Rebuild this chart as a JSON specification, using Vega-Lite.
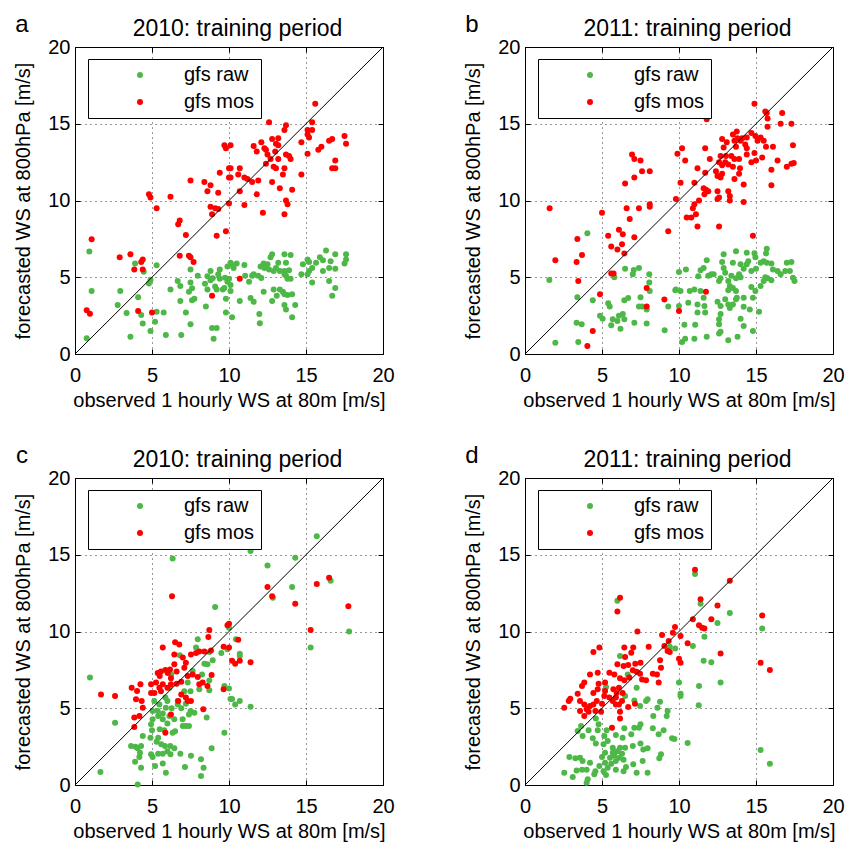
{
"$schema": "https://vega.github.io/schema/vega-lite/v6.json",
"padding": {"left": 13, "top": 12, "right": 0, "bottom": 0},
"columns": 2,
"spacing": {"row": 124, "column": 142},
"bounds": "flush",
"resolve": {"scale": {"color": "independent"}, "legend": {"color": "independent"}},
"config": {
  "font": "Liberation Sans",
  "view": {"stroke": "black", "strokeWidth": 1},
  "axis": {"domain": false, "tickColor": "black", "tickSize": -5, "labelFontSize": 20, "labelColor": "black", "titleFontSize": 20, "titleColor": "black", "titleFontWeight": "normal", "gridColor": "black", "gridDash": [1, 4], "gridOpacity": 0.8, "gridWidth": 1, "labelFlush": false},
  "legend": {"orient": "none", "legendX": 13, "legendY": 12, "title": null, "fillColor": "white", "strokeColor": "black", "padding": 6, "labelFontSize": 20, "labelColor": "black", "symbolType": "circle", "symbolSize": 36, "symbolOffset": 36, "labelOffset": 34, "rowPadding": 7, "symbolStrokeWidth": 0}
},
"datasets": {
"a": [
{"s":"gfs raw","x":0.93,"y":6.67},{"s":"gfs raw","x":1.08,"y":4.1},{"s":"gfs raw","x":0.76,"y":1.02},{"s":"gfs raw","x":2.94,"y":4.1},{"s":"gfs raw","x":2.77,"y":3.2},{"s":"gfs raw","x":3.35,"y":2.67},{"s":"gfs raw","x":3.6,"y":1.13},{"s":"gfs raw","x":3.9,"y":5.9},{"s":"gfs raw","x":4.46,"y":5.36},{"s":"gfs raw","x":4.1,"y":3.7},{"s":"gfs raw","x":4.3,"y":2.54},{"s":"gfs raw","x":4.4,"y":1.98},{"s":"gfs raw","x":4.9,"y":1.5},{"s":"gfs raw","x":4.9,"y":4.84},{"s":"gfs raw","x":4.8,"y":4.6},{"s":"gfs raw","x":5.3,"y":5.78},{"s":"gfs raw","x":5.3,"y":2.76},{"s":"gfs raw","x":5.2,"y":2.1},{"s":"gfs raw","x":5.9,"y":1.24},{"s":"gfs raw","x":5.76,"y":2.7},{"s":"gfs raw","x":6.2,"y":4.2},{"s":"gfs raw","x":6.67,"y":4.75},{"s":"gfs raw","x":6.84,"y":4.43},{"s":"gfs raw","x":6.84,"y":3.45},{"s":"gfs raw","x":6.9,"y":1.24},{"s":"gfs raw","x":7.2,"y":2.7},{"s":"gfs raw","x":7.5,"y":5.5},{"s":"gfs raw","x":7.5,"y":4.65},{"s":"gfs raw","x":7.4,"y":4.06},{"s":"gfs raw","x":7.6,"y":4.28},{"s":"gfs raw","x":7.6,"y":3.5},{"s":"gfs raw","x":7.75,"y":3.6},{"s":"gfs raw","x":7.5,"y":1.93},{"s":"gfs raw","x":7.97,"y":5.1},{"s":"gfs raw","x":8.44,"y":4.58},{"s":"gfs raw","x":8.6,"y":4.2},{"s":"gfs raw","x":8.5,"y":3.1},{"s":"gfs raw","x":8.6,"y":5.06},{"s":"gfs raw","x":8.8,"y":5.4},{"s":"gfs raw","x":8.8,"y":4.8},{"s":"gfs raw","x":8.94,"y":4.93},{"s":"gfs raw","x":9.4,"y":5.5},{"s":"gfs raw","x":9.3,"y":5.2},{"s":"gfs raw","x":9.1,"y":4.4},{"s":"gfs raw","x":9.2,"y":4.2},{"s":"gfs raw","x":9.6,"y":4.2},{"s":"gfs raw","x":9.74,"y":4.97},{"s":"gfs raw","x":8.9,"y":1.7},{"s":"gfs raw","x":9.2,"y":1.7},{"s":"gfs raw","x":9.0,"y":1.0},{"s":"gfs raw","x":9.4,"y":4.9},
{"s":"gfs raw","x":16.3,"y":6.75},{"s":"gfs raw","x":16.9,"y":6.5},{"s":"gfs raw","x":17.6,"y":6.5},{"s":"gfs raw","x":17.6,"y":6.15},{"s":"gfs raw","x":17.5,"y":5.9},{"s":"gfs raw","x":15.9,"y":6.3},{"s":"gfs raw","x":16.1,"y":6.1},{"s":"gfs raw","x":16.6,"y":6.05},{"s":"gfs raw","x":16.5,"y":5.6},{"s":"gfs raw","x":16.9,"y":5.55},{"s":"gfs raw","x":16.1,"y":5.4},{"s":"gfs raw","x":15.65,"y":5.95},{"s":"gfs raw","x":15.4,"y":5.6},{"s":"gfs raw","x":15.2,"y":5.4},{"s":"gfs raw","x":15.1,"y":5.2},{"s":"gfs raw","x":14.7,"y":5.2},{"s":"gfs raw","x":14.8,"y":5.85},{"s":"gfs raw","x":15.1,"y":6.15},{"s":"gfs raw","x":15.2,"y":6.0},{"s":"gfs raw","x":15.4,"y":4.65},{"s":"gfs raw","x":16.5,"y":4.75},{"s":"gfs raw","x":16.9,"y":4.3},{"s":"gfs raw","x":16.7,"y":3.8},{"s":"gfs raw","x":12.8,"y":6.5},{"s":"gfs raw","x":13.6,"y":6.5},{"s":"gfs raw","x":14.0,"y":6.45},{"s":"gfs raw","x":12.7,"y":6.3},{"s":"gfs raw","x":13.2,"y":5.95},{"s":"gfs raw","x":13.7,"y":5.95},{"s":"gfs raw","x":12.5,"y":5.85},{"s":"gfs raw","x":12.25,"y":5.9},{"s":"gfs raw","x":12.05,"y":5.7},{"s":"gfs raw","x":12.3,"y":5.6},{"s":"gfs raw","x":12.6,"y":5.5},{"s":"gfs raw","x":12.9,"y":5.4},{"s":"gfs raw","x":13.05,"y":5.6},{"s":"gfs raw","x":13.3,"y":5.4},{"s":"gfs raw","x":13.6,"y":5.4},{"s":"gfs raw","x":13.9,"y":5.45},{"s":"gfs raw","x":13.7,"y":5.1},{"s":"gfs raw","x":14.0,"y":4.9},{"s":"gfs raw","x":13.8,"y":4.9},{"s":"gfs raw","x":13.6,"y":5.2},{"s":"gfs raw","x":11.0,"y":5.8},{"s":"gfs raw","x":10.5,"y":5.9},{"s":"gfs raw","x":10.2,"y":5.8},{"s":"gfs raw","x":10.3,"y":5.6},{"s":"gfs raw","x":10.1,"y":5.95},{"s":"gfs raw","x":9.9,"y":5.7},{"s":"gfs raw","x":11.6,"y":5.2},{"s":"gfs raw","x":11.5,"y":5.1},{"s":"gfs raw","x":11.9,"y":5.1},{"s":"gfs raw","x":12.1,"y":4.95},{"s":"gfs raw","x":11.05,"y":5.1},{"s":"gfs raw","x":10.0,"y":4.9},{"s":"gfs raw","x":11.3,"y":4.7},{"s":"gfs raw","x":10.1,"y":4.5},{"s":"gfs raw","x":9.9,"y":4.7},{"s":"gfs raw","x":9.7,"y":4.3},{"s":"gfs raw","x":10.1,"y":4.1},{"s":"gfs raw","x":9.8,"y":3.6},{"s":"gfs raw","x":10.7,"y":3.45},{"s":"gfs raw","x":11.4,"y":3.65},{"s":"gfs raw","x":11.6,"y":3.4},{"s":"gfs raw","x":12.25,"y":4.05},{"s":"gfs raw","x":12.9,"y":4.2},{"s":"gfs raw","x":13.3,"y":4.2},{"s":"gfs raw","x":13.5,"y":4.05},{"s":"gfs raw","x":13.1,"y":3.8},{"s":"gfs raw","x":13.6,"y":3.9},{"s":"gfs raw","x":13.8,"y":3.85},{"s":"gfs raw","x":14.1,"y":3.9},{"s":"gfs raw","x":12.8,"y":3.45},{"s":"gfs raw","x":13.6,"y":3.2},{"s":"gfs raw","x":13.7,"y":2.9},{"s":"gfs raw","x":14.3,"y":3.2},{"s":"gfs raw","x":14.1,"y":2.4},{"s":"gfs raw","x":9.8,"y":2.7},{"s":"gfs raw","x":10.2,"y":2.4},{"s":"gfs raw","x":11.97,"y":2.6},{"s":"gfs raw","x":12.0,"y":2.0},
{"s":"gfs mos","x":9.7,"y":13.6},{"s":"gfs mos","x":9.8,"y":13.4},{"s":"gfs mos","x":10.0,"y":12.1},{"s":"gfs mos","x":9.4,"y":11.8},{"s":"gfs mos","x":10.0,"y":11.5},{"s":"gfs mos","x":7.5,"y":11.3},{"s":"gfs mos","x":8.4,"y":11.2},{"s":"gfs mos","x":8.8,"y":11.0},{"s":"gfs mos","x":8.6,"y":10.6},{"s":"gfs mos","x":9.3,"y":10.5},{"s":"gfs mos","x":4.8,"y":10.4},{"s":"gfs mos","x":4.9,"y":10.2},{"s":"gfs mos","x":6.2,"y":10.25},{"s":"gfs mos","x":5.3,"y":9.5},{"s":"gfs mos","x":8.8,"y":9.6},{"s":"gfs mos","x":9.1,"y":9.5},{"s":"gfs mos","x":9.3,"y":9.45},{"s":"gfs mos","x":10.0,"y":9.8},{"s":"gfs mos","x":8.9,"y":9.1},{"s":"gfs mos","x":6.8,"y":8.7},{"s":"gfs mos","x":6.7,"y":8.45},{"s":"gfs mos","x":7.2,"y":7.75},{"s":"gfs mos","x":9.2,"y":7.7},{"s":"gfs mos","x":9.8,"y":8.0},{"s":"gfs mos","x":1.08,"y":7.47},{"s":"gfs mos","x":3.6,"y":6.5},{"s":"gfs mos","x":2.9,"y":6.3},{"s":"gfs mos","x":4.4,"y":6.15},{"s":"gfs mos","x":4.3,"y":6.0},{"s":"gfs mos","x":3.85,"y":5.5},{"s":"gfs mos","x":4.4,"y":5.5},{"s":"gfs mos","x":6.8,"y":6.4},{"s":"gfs mos","x":7.4,"y":6.4},{"s":"gfs mos","x":7.5,"y":6.3},{"s":"gfs mos","x":7.7,"y":6.0},{"s":"gfs mos","x":8.9,"y":3.8},{"s":"gfs mos","x":0.76,"y":2.85},{"s":"gfs mos","x":0.97,"y":2.63},{"s":"gfs mos","x":4.1,"y":2.8},{"s":"gfs mos","x":5.0,"y":2.7},
{"s":"gfs mos","x":15.6,"y":16.3},{"s":"gfs mos","x":12.6,"y":15.1},{"s":"gfs mos","x":13.7,"y":14.9},{"s":"gfs mos","x":13.6,"y":14.6},{"s":"gfs mos","x":15.4,"y":15.1},{"s":"gfs mos","x":15.1,"y":14.6},{"s":"gfs mos","x":15.4,"y":14.6},{"s":"gfs mos","x":15.1,"y":14.3},{"s":"gfs mos","x":15.2,"y":14.1},{"s":"gfs mos","x":14.7,"y":13.8},{"s":"gfs mos","x":12.8,"y":14.0},{"s":"gfs mos","x":13.2,"y":14.05},{"s":"gfs mos","x":13.05,"y":13.7},{"s":"gfs mos","x":12.1,"y":13.8},{"s":"gfs mos","x":11.6,"y":13.55},{"s":"gfs mos","x":12.3,"y":13.4},{"s":"gfs mos","x":12.4,"y":13.3},{"s":"gfs mos","x":11.8,"y":13.2},{"s":"gfs mos","x":13.0,"y":13.2},{"s":"gfs mos","x":13.2,"y":13.6},{"s":"gfs mos","x":10.1,"y":13.6},{"s":"gfs mos","x":16.7,"y":14.0},{"s":"gfs mos","x":16.5,"y":13.9},{"s":"gfs mos","x":17.5,"y":14.2},{"s":"gfs mos","x":17.6,"y":13.7},{"s":"gfs mos","x":16.0,"y":13.5},{"s":"gfs mos","x":15.8,"y":13.3},{"s":"gfs mos","x":15.1,"y":13.05},{"s":"gfs mos","x":13.7,"y":13.0},{"s":"gfs mos","x":13.9,"y":12.9},{"s":"gfs mos","x":14.0,"y":12.7},{"s":"gfs mos","x":12.5,"y":13.0},{"s":"gfs mos","x":12.7,"y":12.7},{"s":"gfs mos","x":13.2,"y":12.7},{"s":"gfs mos","x":12.4,"y":12.4},{"s":"gfs mos","x":12.9,"y":12.2},{"s":"gfs mos","x":13.05,"y":12.1},{"s":"gfs mos","x":13.6,"y":12.1},{"s":"gfs mos","x":13.5,"y":11.7},{"s":"gfs mos","x":16.9,"y":12.6},{"s":"gfs mos","x":16.7,"y":12.1},{"s":"gfs mos","x":16.9,"y":12.1},{"s":"gfs mos","x":14.7,"y":11.7},{"s":"gfs mos","x":10.1,"y":12.1},{"s":"gfs mos","x":10.7,"y":12.1},{"s":"gfs mos","x":10.1,"y":11.5},{"s":"gfs mos","x":10.6,"y":11.7},{"s":"gfs mos","x":11.0,"y":11.5},{"s":"gfs mos","x":11.2,"y":11.4},{"s":"gfs mos","x":11.5,"y":11.2},{"s":"gfs mos","x":11.9,"y":11.3},{"s":"gfs mos","x":12.8,"y":11.2},{"s":"gfs mos","x":13.3,"y":10.8},{"s":"gfs mos","x":14.1,"y":10.7},{"s":"gfs mos","x":10.7,"y":10.6},{"s":"gfs mos","x":11.8,"y":10.4},{"s":"gfs mos","x":11.0,"y":9.7},{"s":"gfs mos","x":13.7,"y":10.0},{"s":"gfs mos","x":13.8,"y":9.75},{"s":"gfs mos","x":13.6,"y":9.1},{"s":"gfs mos","x":12.2,"y":9.2},{"s":"gfs mos","x":10.7,"y":4.9}
],
"b": [
{"s":"gfs raw","x":4.05,"y":7.86},{"s":"gfs raw","x":1.58,"y":4.82},{"s":"gfs raw","x":3.4,"y":3.7},{"s":"gfs raw","x":4.4,"y":3.5},{"s":"gfs raw","x":6.5,"y":5.56},{"s":"gfs raw","x":7.06,"y":5.47},{"s":"gfs raw","x":7.4,"y":5.6},{"s":"gfs raw","x":7.0,"y":5.2},{"s":"gfs raw","x":5.8,"y":5.0},{"s":"gfs raw","x":8.07,"y":5.2},{"s":"gfs raw","x":8.07,"y":4.65},{"s":"gfs raw","x":8.1,"y":4.1},{"s":"gfs raw","x":9.76,"y":4.15},{"s":"gfs raw","x":5.4,"y":3.3},{"s":"gfs raw","x":5.5,"y":3.1},{"s":"gfs raw","x":6.45,"y":3.5},{"s":"gfs raw","x":6.7,"y":3.65},{"s":"gfs raw","x":7.5,"y":3.7},{"s":"gfs raw","x":7.4,"y":3.1},{"s":"gfs raw","x":7.6,"y":3.1},{"s":"gfs raw","x":7.9,"y":2.9},{"s":"gfs raw","x":9.3,"y":3.1},{"s":"gfs raw","x":4.87,"y":2.5},{"s":"gfs raw","x":5.04,"y":2.3},{"s":"gfs raw","x":5.7,"y":2.26},{"s":"gfs raw","x":6.0,"y":2.15},{"s":"gfs raw","x":6.1,"y":2.5},{"s":"gfs raw","x":6.35,"y":2.6},{"s":"gfs raw","x":6.45,"y":2.26},{"s":"gfs raw","x":5.6,"y":1.87},{"s":"gfs raw","x":6.2,"y":1.65},{"s":"gfs raw","x":3.35,"y":2.04},{"s":"gfs raw","x":3.68,"y":1.93},{"s":"gfs raw","x":7.1,"y":2.04},{"s":"gfs raw","x":7.9,"y":1.98},{"s":"gfs raw","x":9.07,"y":1.54},{"s":"gfs raw","x":1.97,"y":0.74},{"s":"gfs raw","x":3.46,"y":0.78},
{"s":"gfs raw","x":15.7,"y":6.86},{"s":"gfs raw","x":13.7,"y":6.7},{"s":"gfs raw","x":14.4,"y":6.6},{"s":"gfs raw","x":14.9,"y":6.56},{"s":"gfs raw","x":12.9,"y":6.5},{"s":"gfs raw","x":15.65,"y":6.55},{"s":"gfs raw","x":14.96,"y":6.3},{"s":"gfs raw","x":15.3,"y":5.95},{"s":"gfs raw","x":15.5,"y":6.05},{"s":"gfs raw","x":15.7,"y":5.95},{"s":"gfs raw","x":16.0,"y":5.9},{"s":"gfs raw","x":14.5,"y":6.05},{"s":"gfs raw","x":14.4,"y":5.85},{"s":"gfs raw","x":14.0,"y":5.85},{"s":"gfs raw","x":13.5,"y":5.95},{"s":"gfs raw","x":12.8,"y":6.0},{"s":"gfs raw","x":11.8,"y":6.1},{"s":"gfs raw","x":12.9,"y":5.6},{"s":"gfs raw","x":15.0,"y":5.55},{"s":"gfs raw","x":14.2,"y":5.55},{"s":"gfs raw","x":14.7,"y":5.4},{"s":"gfs raw","x":16.1,"y":5.5},{"s":"gfs raw","x":16.4,"y":5.4},{"s":"gfs raw","x":17.0,"y":5.95},{"s":"gfs raw","x":17.3,"y":6.0},{"s":"gfs raw","x":16.9,"y":5.4},{"s":"gfs raw","x":17.2,"y":5.4},{"s":"gfs raw","x":16.6,"y":5.2},{"s":"gfs raw","x":17.4,"y":4.97},{"s":"gfs raw","x":17.5,"y":4.75},{"s":"gfs raw","x":10.45,"y":5.5},{"s":"gfs raw","x":10.0,"y":5.35},{"s":"gfs raw","x":11.4,"y":5.45},{"s":"gfs raw","x":11.6,"y":5.6},{"s":"gfs raw","x":11.9,"y":5.1},{"s":"gfs raw","x":12.1,"y":5.2},{"s":"gfs raw","x":12.25,"y":5.2},{"s":"gfs raw","x":11.25,"y":5.06},{"s":"gfs raw","x":12.6,"y":4.76},{"s":"gfs raw","x":12.7,"y":4.93},{"s":"gfs raw","x":13.2,"y":4.76},{"s":"gfs raw","x":13.4,"y":5.1},{"s":"gfs raw","x":13.7,"y":4.93},{"s":"gfs raw","x":14.0,"y":5.0},{"s":"gfs raw","x":13.9,"y":5.2},{"s":"gfs raw","x":13.0,"y":5.3},{"s":"gfs raw","x":15.6,"y":5.0},{"s":"gfs raw","x":15.75,"y":4.93},{"s":"gfs raw","x":16.0,"y":4.8},{"s":"gfs raw","x":15.5,"y":4.76},{"s":"gfs raw","x":13.3,"y":4.43},{"s":"gfs raw","x":13.5,"y":4.3},{"s":"gfs raw","x":13.2,"y":4.15},{"s":"gfs raw","x":13.7,"y":4.1},{"s":"gfs raw","x":14.7,"y":4.36},{"s":"gfs raw","x":15.3,"y":4.43},{"s":"gfs raw","x":9.8,"y":4.2},{"s":"gfs raw","x":10.1,"y":4.1},{"s":"gfs raw","x":10.7,"y":4.1},{"s":"gfs raw","x":11.0,"y":4.2},{"s":"gfs raw","x":11.4,"y":4.1},{"s":"gfs raw","x":11.6,"y":3.67},{"s":"gfs raw","x":10.6,"y":3.34},{"s":"gfs raw","x":11.2,"y":3.23},{"s":"gfs raw","x":11.65,"y":3.13},{"s":"gfs raw","x":12.5,"y":3.4},{"s":"gfs raw","x":12.7,"y":3.13},{"s":"gfs raw","x":13.0,"y":3.56},{"s":"gfs raw","x":13.2,"y":3.23},{"s":"gfs raw","x":13.3,"y":3.0},{"s":"gfs raw","x":13.5,"y":3.23},{"s":"gfs raw","x":13.7,"y":3.56},{"s":"gfs raw","x":13.76,"y":3.67},{"s":"gfs raw","x":14.2,"y":3.67},{"s":"gfs raw","x":14.2,"y":3.08},{"s":"gfs raw","x":14.8,"y":3.67},{"s":"gfs raw","x":14.96,"y":4.1},{"s":"gfs raw","x":14.6,"y":2.9},{"s":"gfs raw","x":15.2,"y":2.75},{"s":"gfs raw","x":10.0,"y":3.13},{"s":"gfs raw","x":11.2,"y":2.7},{"s":"gfs raw","x":11.7,"y":2.7},{"s":"gfs raw","x":12.7,"y":2.6},{"s":"gfs raw","x":12.6,"y":2.26},{"s":"gfs raw","x":14.0,"y":2.3},{"s":"gfs raw","x":12.6,"y":1.93},{"s":"gfs raw","x":14.2,"y":1.82},{"s":"gfs raw","x":10.35,"y":1.9},{"s":"gfs raw","x":11.05,"y":1.9},{"s":"gfs raw","x":14.8,"y":1.5},{"s":"gfs raw","x":12.6,"y":1.33},{"s":"gfs raw","x":12.7,"y":1.45},{"s":"gfs raw","x":11.8,"y":1.13},{"s":"gfs raw","x":11.0,"y":1.0},{"s":"gfs raw","x":10.4,"y":1.0},{"s":"gfs raw","x":10.2,"y":0.78},{"s":"gfs raw","x":13.2,"y":0.9},{"s":"gfs raw","x":13.8,"y":1.13},
{"s":"gfs mos","x":6.95,"y":13.0},{"s":"gfs mos","x":7.1,"y":12.7},{"s":"gfs mos","x":7.5,"y":12.6},{"s":"gfs mos","x":7.6,"y":11.9},{"s":"gfs mos","x":8.1,"y":11.9},{"s":"gfs mos","x":7.1,"y":11.5},{"s":"gfs mos","x":6.5,"y":11.1},{"s":"gfs mos","x":1.6,"y":9.5},{"s":"gfs mos","x":5.0,"y":9.2},{"s":"gfs mos","x":6.6,"y":9.5},{"s":"gfs mos","x":7.4,"y":9.5},{"s":"gfs mos","x":8.1,"y":9.75},{"s":"gfs mos","x":8.1,"y":9.6},{"s":"gfs mos","x":6.8,"y":8.8},{"s":"gfs mos","x":9.8,"y":10.1},{"s":"gfs mos","x":6.1,"y":8.1},{"s":"gfs mos","x":6.35,"y":7.8},{"s":"gfs mos","x":5.4,"y":7.7},{"s":"gfs mos","x":7.1,"y":7.6},{"s":"gfs mos","x":3.4,"y":7.5},{"s":"gfs mos","x":9.3,"y":8.0},{"s":"gfs mos","x":6.3,"y":7.15},{"s":"gfs mos","x":5.6,"y":7.0},{"s":"gfs mos","x":6.0,"y":6.8},{"s":"gfs mos","x":6.45,"y":6.55},{"s":"gfs mos","x":3.7,"y":6.45},{"s":"gfs mos","x":1.97,"y":6.1},{"s":"gfs mos","x":3.35,"y":6.0},{"s":"gfs mos","x":5.6,"y":5.25},{"s":"gfs mos","x":5.75,"y":5.25},{"s":"gfs mos","x":3.46,"y":4.75},{"s":"gfs mos","x":4.87,"y":3.9},{"s":"gfs mos","x":7.9,"y":4.3},{"s":"gfs mos","x":7.9,"y":3.1},{"s":"gfs mos","x":9.05,"y":3.55},{"s":"gfs mos","x":4.4,"y":1.5},{"s":"gfs mos","x":4.05,"y":0.52},
{"s":"gfs mos","x":14.9,"y":16.3},{"s":"gfs mos","x":15.6,"y":15.8},{"s":"gfs mos","x":15.7,"y":15.7},{"s":"gfs mos","x":16.7,"y":15.7},{"s":"gfs mos","x":15.75,"y":15.35},{"s":"gfs mos","x":16.6,"y":15.0},{"s":"gfs mos","x":17.3,"y":15.0},{"s":"gfs mos","x":15.75,"y":14.8},{"s":"gfs mos","x":14.7,"y":14.4},{"s":"gfs mos","x":13.75,"y":14.5},{"s":"gfs mos","x":13.5,"y":14.3},{"s":"gfs mos","x":14.1,"y":14.05},{"s":"gfs mos","x":14.4,"y":14.1},{"s":"gfs mos","x":15.1,"y":13.9},{"s":"gfs mos","x":15.3,"y":14.1},{"s":"gfs mos","x":15.5,"y":13.9},{"s":"gfs mos","x":14.96,"y":14.2},{"s":"gfs mos","x":12.8,"y":14.0},{"s":"gfs mos","x":13.6,"y":13.9},{"s":"gfs mos","x":13.8,"y":14.05},{"s":"gfs mos","x":14.0,"y":13.9},{"s":"gfs mos","x":14.3,"y":13.65},{"s":"gfs mos","x":13.1,"y":13.8},{"s":"gfs mos","x":12.9,"y":13.45},{"s":"gfs mos","x":13.7,"y":13.5},{"s":"gfs mos","x":14.4,"y":13.4},{"s":"gfs mos","x":16.1,"y":13.5},{"s":"gfs mos","x":15.65,"y":13.5},{"s":"gfs mos","x":17.4,"y":13.6},{"s":"gfs mos","x":9.9,"y":13.05},{"s":"gfs mos","x":10.2,"y":13.4},{"s":"gfs mos","x":11.7,"y":13.4},{"s":"gfs mos","x":10.4,"y":12.6},{"s":"gfs mos","x":12.0,"y":12.7},{"s":"gfs mos","x":12.7,"y":12.9},{"s":"gfs mos","x":13.05,"y":12.9},{"s":"gfs mos","x":13.4,"y":12.9},{"s":"gfs mos","x":13.6,"y":12.7},{"s":"gfs mos","x":13.9,"y":12.7},{"s":"gfs mos","x":14.4,"y":13.0},{"s":"gfs mos","x":14.9,"y":13.1},{"s":"gfs mos","x":15.4,"y":12.8},{"s":"gfs mos","x":14.7,"y":12.5},{"s":"gfs mos","x":15.0,"y":12.6},{"s":"gfs mos","x":16.4,"y":12.6},{"s":"gfs mos","x":12.6,"y":12.5},{"s":"gfs mos","x":12.8,"y":12.3},{"s":"gfs mos","x":13.0,"y":12.5},{"s":"gfs mos","x":13.2,"y":12.35},{"s":"gfs mos","x":13.5,"y":12.2},{"s":"gfs mos","x":13.96,"y":12.1},{"s":"gfs mos","x":17.3,"y":12.4},{"s":"gfs mos","x":17.45,"y":12.45},{"s":"gfs mos","x":17.0,"y":12.2},{"s":"gfs mos","x":16.0,"y":12.0},{"s":"gfs mos","x":11.2,"y":12.1},{"s":"gfs mos","x":11.7,"y":11.8},{"s":"gfs mos","x":12.4,"y":11.9},{"s":"gfs mos","x":12.5,"y":11.6},{"s":"gfs mos","x":12.8,"y":11.75},{"s":"gfs mos","x":12.7,"y":11.5},{"s":"gfs mos","x":13.6,"y":11.4},{"s":"gfs mos","x":13.9,"y":11.75},{"s":"gfs mos","x":16.0,"y":11.0},{"s":"gfs mos","x":14.2,"y":11.05},{"s":"gfs mos","x":10.1,"y":11.15},{"s":"gfs mos","x":11.0,"y":11.15},{"s":"gfs mos","x":11.6,"y":10.8},{"s":"gfs mos","x":11.75,"y":10.7},{"s":"gfs mos","x":11.9,"y":10.6},{"s":"gfs mos","x":11.65,"y":10.4},{"s":"gfs mos","x":12.5,"y":10.6},{"s":"gfs mos","x":12.6,"y":10.2},{"s":"gfs mos","x":12.5,"y":10.1},{"s":"gfs mos","x":13.2,"y":10.6},{"s":"gfs mos","x":13.3,"y":10.3},{"s":"gfs mos","x":13.3,"y":10.0},{"s":"gfs mos","x":14.2,"y":9.9},{"s":"gfs mos","x":11.0,"y":9.75},{"s":"gfs mos","x":11.3,"y":10.0},{"s":"gfs mos","x":10.9,"y":9.5},{"s":"gfs mos","x":11.1,"y":9.1},{"s":"gfs mos","x":10.8,"y":8.9},{"s":"gfs mos","x":10.5,"y":8.9},{"s":"gfs mos","x":11.2,"y":8.3},{"s":"gfs mos","x":12.6,"y":8.3},{"s":"gfs mos","x":14.8,"y":7.7},{"s":"gfs mos","x":11.75,"y":4.05},{"s":"gfs mos","x":10.0,"y":2.8},{"s":"gfs mos","x":11.8,"y":15.3}
],
"c": [
{"s":"gfs raw","x":6.34,"y":14.75},{"s":"gfs raw","x":9.1,"y":11.6},{"s":"gfs raw","x":0.97,"y":7.0},{"s":"gfs raw","x":2.6,"y":4.06},{"s":"gfs raw","x":1.65,"y":0.85},{"s":"gfs raw","x":4.07,"y":0.04},{"s":"gfs raw","x":7.97,"y":9.5},{"s":"gfs raw","x":7.86,"y":8.95},{"s":"gfs raw","x":6.8,"y":8.45},{"s":"gfs raw","x":8.72,"y":8.66},{"s":"gfs raw","x":8.94,"y":8.12},{"s":"gfs raw","x":8.6,"y":7.86},{"s":"gfs raw","x":8.4,"y":7.9},{"s":"gfs raw","x":8.25,"y":7.2},{"s":"gfs raw","x":8.72,"y":6.8},{"s":"gfs raw","x":7.32,"y":6.67},{"s":"gfs raw","x":7.1,"y":6.1},{"s":"gfs raw","x":7.5,"y":6.1},{"s":"gfs raw","x":8.07,"y":6.23},{"s":"gfs raw","x":8.72,"y":6.17},{"s":"gfs raw","x":6.25,"y":7.2},{"s":"gfs raw","x":6.13,"y":6.34},{"s":"gfs raw","x":5.87,"y":5.7},{"s":"gfs raw","x":6.0,"y":5.47},{"s":"gfs raw","x":5.48,"y":5.25},{"s":"gfs raw","x":5.15,"y":5.47},{"s":"gfs raw","x":5.04,"y":4.82},{"s":"gfs raw","x":5.37,"y":4.82},{"s":"gfs raw","x":5.7,"y":4.65},{"s":"gfs raw","x":5.9,"y":5.04},{"s":"gfs raw","x":6.28,"y":5.0},{"s":"gfs raw","x":6.67,"y":5.25},{"s":"gfs raw","x":6.67,"y":5.47},{"s":"gfs raw","x":6.9,"y":5.0},{"s":"gfs raw","x":7.2,"y":5.3},{"s":"gfs raw","x":7.5,"y":4.82},{"s":"gfs raw","x":7.75,"y":4.7},{"s":"gfs raw","x":7.4,"y":4.6},{"s":"gfs raw","x":6.99,"y":4.28},{"s":"gfs raw","x":7.2,"y":3.84},{"s":"gfs raw","x":7.4,"y":3.84},{"s":"gfs raw","x":7.0,"y":3.84},{"s":"gfs raw","x":6.45,"y":4.28},{"s":"gfs raw","x":6.13,"y":4.5},{"s":"gfs raw","x":6.0,"y":4.0},{"s":"gfs raw","x":5.7,"y":4.28},{"s":"gfs raw","x":5.4,"y":4.5},{"s":"gfs raw","x":5.04,"y":4.28},{"s":"gfs raw","x":4.94,"y":3.95},{"s":"gfs raw","x":5.0,"y":3.56},{"s":"gfs raw","x":5.5,"y":3.63},{"s":"gfs raw","x":5.8,"y":3.56},{"s":"gfs raw","x":6.34,"y":3.4},{"s":"gfs raw","x":6.5,"y":3.5},{"s":"gfs raw","x":4.9,"y":3.08},{"s":"gfs raw","x":5.4,"y":3.08},{"s":"gfs raw","x":5.3,"y":2.82},{"s":"gfs raw","x":5.6,"y":2.65},{"s":"gfs raw","x":5.84,"y":2.54},{"s":"gfs raw","x":6.19,"y":2.54},{"s":"gfs raw","x":6.45,"y":2.4},{"s":"gfs raw","x":6.0,"y":2.2},{"s":"gfs raw","x":6.2,"y":2.0},{"s":"gfs raw","x":5.7,"y":2.04},{"s":"gfs raw","x":5.4,"y":2.04},{"s":"gfs raw","x":4.94,"y":2.0},{"s":"gfs raw","x":5.04,"y":1.82},{"s":"gfs raw","x":4.4,"y":3.2},{"s":"gfs raw","x":3.64,"y":2.54},{"s":"gfs raw","x":3.92,"y":2.5},{"s":"gfs raw","x":4.07,"y":2.4},{"s":"gfs raw","x":4.29,"y":2.54},{"s":"gfs raw","x":4.22,"y":2.1},{"s":"gfs raw","x":4.18,"y":1.82},{"s":"gfs raw","x":3.9,"y":1.52},{"s":"gfs raw","x":4.29,"y":1.13},{"s":"gfs raw","x":5.2,"y":1.24},{"s":"gfs raw","x":5.7,"y":1.4},{"s":"gfs raw","x":5.9,"y":0.8},{"s":"gfs raw","x":6.84,"y":2.04},{"s":"gfs raw","x":7.14,"y":1.17},{"s":"gfs raw","x":7.53,"y":1.9},{"s":"gfs raw","x":8.18,"y":1.67},{"s":"gfs raw","x":8.35,"y":1.13},{"s":"gfs raw","x":8.18,"y":0.59},{"s":"gfs raw","x":8.87,"y":2.4},{"s":"gfs raw","x":9.7,"y":3.4},{"s":"gfs raw","x":8.55,"y":4.4},{"s":"gfs raw","x":7.64,"y":7.43},{"s":"gfs raw","x":10.1,"y":5.6},
{"s":"gfs raw","x":15.7,"y":16.2},{"s":"gfs raw","x":11.4,"y":15.25},{"s":"gfs raw","x":12.5,"y":14.3},{"s":"gfs raw","x":14.3,"y":14.8},{"s":"gfs raw","x":14.1,"y":12.9},{"s":"gfs raw","x":12.85,"y":12.2},{"s":"gfs raw","x":16.6,"y":13.3},{"s":"gfs raw","x":17.8,"y":10.0},{"s":"gfs raw","x":15.3,"y":8.95},{"s":"gfs raw","x":10.0,"y":10.25},{"s":"gfs raw","x":10.45,"y":9.5},{"s":"gfs raw","x":9.9,"y":8.84},{"s":"gfs raw","x":10.7,"y":8.55},{"s":"gfs raw","x":10.7,"y":8.4},{"s":"gfs raw","x":9.5,"y":8.6},{"s":"gfs raw","x":9.7,"y":6.45},{"s":"gfs raw","x":10.0,"y":6.28},{"s":"gfs raw","x":10.2,"y":5.6},{"s":"gfs raw","x":10.4,"y":5.25},{"s":"gfs raw","x":10.7,"y":5.47},{"s":"gfs raw","x":11.4,"y":5.1},
{"s":"gfs mos","x":6.3,"y":12.3},{"s":"gfs mos","x":9.9,"y":10.4},{"s":"gfs mos","x":8.72,"y":10.1},{"s":"gfs mos","x":8.66,"y":9.64},{"s":"gfs mos","x":6.5,"y":9.3},{"s":"gfs mos","x":6.77,"y":9.16},{"s":"gfs mos","x":5.7,"y":8.95},{"s":"gfs mos","x":7.86,"y":8.6},{"s":"gfs mos","x":8.07,"y":8.7},{"s":"gfs mos","x":8.4,"y":8.7},{"s":"gfs mos","x":8.83,"y":8.77},{"s":"gfs mos","x":7.53,"y":8.5},{"s":"gfs mos","x":7.0,"y":8.3},{"s":"gfs mos","x":7.2,"y":7.97},{"s":"gfs mos","x":7.1,"y":7.64},{"s":"gfs mos","x":6.45,"y":7.86},{"s":"gfs mos","x":6.17,"y":7.53},{"s":"gfs mos","x":6.02,"y":7.3},{"s":"gfs mos","x":6.23,"y":6.95},{"s":"gfs mos","x":5.37,"y":7.3},{"s":"gfs mos","x":5.5,"y":7.1},{"s":"gfs mos","x":5.26,"y":6.67},{"s":"gfs mos","x":5.7,"y":6.56},{"s":"gfs mos","x":6.0,"y":6.34},{"s":"gfs mos","x":6.23,"y":6.56},{"s":"gfs mos","x":6.6,"y":6.6},{"s":"gfs mos","x":6.9,"y":6.73},{"s":"gfs mos","x":7.32,"y":7.1},{"s":"gfs mos","x":7.64,"y":7.2},{"s":"gfs mos","x":7.97,"y":7.04},{"s":"gfs mos","x":8.29,"y":6.67},{"s":"gfs mos","x":8.87,"y":7.17},{"s":"gfs mos","x":8.6,"y":6.45},{"s":"gfs mos","x":8.07,"y":6.56},{"s":"gfs mos","x":4.94,"y":6.0},{"s":"gfs mos","x":5.15,"y":6.0},{"s":"gfs mos","x":5.58,"y":6.1},{"s":"gfs mos","x":5.48,"y":6.34},{"s":"gfs mos","x":4.25,"y":6.56},{"s":"gfs mos","x":3.68,"y":6.34},{"s":"gfs mos","x":4.03,"y":6.12},{"s":"gfs mos","x":1.69,"y":5.9},{"s":"gfs mos","x":2.6,"y":5.8},{"s":"gfs mos","x":3.96,"y":5.58},{"s":"gfs mos","x":4.33,"y":5.47},{"s":"gfs mos","x":4.4,"y":5.04},{"s":"gfs mos","x":3.85,"y":4.4},{"s":"gfs mos","x":4.18,"y":4.5},{"s":"gfs mos","x":3.85,"y":3.78},{"s":"gfs mos","x":6.9,"y":5.9},{"s":"gfs mos","x":7.2,"y":5.7},{"s":"gfs mos","x":7.53,"y":5.47},{"s":"gfs mos","x":7.32,"y":5.47},{"s":"gfs mos","x":6.7,"y":5.47},{"s":"gfs mos","x":6.23,"y":4.6},{"s":"gfs mos","x":5.87,"y":3.4},{"s":"gfs mos","x":8.33,"y":4.93},{"s":"gfs mos","x":4.94,"y":6.56},{"s":"gfs mos","x":5.58,"y":7.4},{"s":"gfs mos","x":5.87,"y":7.5},{"s":"gfs mos","x":6.6,"y":7.4},{"s":"gfs mos","x":6.45,"y":8.5},
{"s":"gfs mos","x":16.5,"y":13.5},{"s":"gfs mos","x":15.7,"y":13.1},{"s":"gfs mos","x":12.5,"y":12.9},{"s":"gfs mos","x":12.8,"y":12.3},{"s":"gfs mos","x":14.3,"y":11.8},{"s":"gfs mos","x":17.75,"y":11.65},{"s":"gfs mos","x":15.3,"y":10.1},{"s":"gfs mos","x":10.0,"y":10.5},{"s":"gfs mos","x":10.6,"y":9.47},{"s":"gfs mos","x":9.65,"y":9.0},{"s":"gfs mos","x":10.0,"y":8.95},{"s":"gfs mos","x":10.2,"y":8.1},{"s":"gfs mos","x":10.4,"y":7.9},{"s":"gfs mos","x":10.7,"y":8.1},{"s":"gfs mos","x":11.4,"y":8.0},{"s":"gfs mos","x":9.65,"y":6.23}
],
"d": [
{"s":"gfs raw","x":6.0,"y":12.0},{"s":"gfs raw","x":6.17,"y":8.4},{"s":"gfs raw","x":6.67,"y":7.2},{"s":"gfs raw","x":7.25,"y":6.34},{"s":"gfs raw","x":5.26,"y":6.38},{"s":"gfs raw","x":6.5,"y":5.8},{"s":"gfs raw","x":7.1,"y":5.5},{"s":"gfs raw","x":7.47,"y":5.15},{"s":"gfs raw","x":7.86,"y":5.47},{"s":"gfs raw","x":7.96,"y":5.58},{"s":"gfs raw","x":8.77,"y":5.43},{"s":"gfs raw","x":8.6,"y":5.04},{"s":"gfs raw","x":9.26,"y":4.82},{"s":"gfs raw","x":9.2,"y":4.5},{"s":"gfs raw","x":8.33,"y":4.5},{"s":"gfs raw","x":8.3,"y":3.7},{"s":"gfs raw","x":9.0,"y":3.56},{"s":"gfs raw","x":8.68,"y":3.3},{"s":"gfs raw","x":7.5,"y":3.95},{"s":"gfs raw","x":7.4,"y":3.73},{"s":"gfs raw","x":7.1,"y":3.73},{"s":"gfs raw","x":6.45,"y":3.7},{"s":"gfs raw","x":6.9,"y":3.3},{"s":"gfs raw","x":6.34,"y":3.08},{"s":"gfs raw","x":5.9,"y":3.25},{"s":"gfs raw","x":5.3,"y":3.56},{"s":"gfs raw","x":5.15,"y":3.2},{"s":"gfs raw","x":4.78,"y":3.95},{"s":"gfs raw","x":4.6,"y":4.34},{"s":"gfs raw","x":4.72,"y":3.56},{"s":"gfs raw","x":4.4,"y":3.04},{"s":"gfs raw","x":4.13,"y":3.56},{"s":"gfs raw","x":3.74,"y":3.2},{"s":"gfs raw","x":3.64,"y":3.84},{"s":"gfs raw","x":3.42,"y":3.52},{"s":"gfs raw","x":4.6,"y":2.7},{"s":"gfs raw","x":5.1,"y":2.65},{"s":"gfs raw","x":5.37,"y":2.87},{"s":"gfs raw","x":5.7,"y":2.43},{"s":"gfs raw","x":6.17,"y":2.43},{"s":"gfs raw","x":6.5,"y":2.43},{"s":"gfs raw","x":7.0,"y":2.54},{"s":"gfs raw","x":7.5,"y":2.7},{"s":"gfs raw","x":7.68,"y":2.32},{"s":"gfs raw","x":7.96,"y":2.4},{"s":"gfs raw","x":8.83,"y":2.0},{"s":"gfs raw","x":8.72,"y":1.74},{"s":"gfs raw","x":6.0,"y":2.2},{"s":"gfs raw","x":6.3,"y":2.04},{"s":"gfs raw","x":5.8,"y":1.9},{"s":"gfs raw","x":6.13,"y":1.78},{"s":"gfs raw","x":6.4,"y":1.65},{"s":"gfs raw","x":5.9,"y":1.56},{"s":"gfs raw","x":5.6,"y":1.39},{"s":"gfs raw","x":5.2,"y":1.45},{"s":"gfs raw","x":5.37,"y":1.13},{"s":"gfs raw","x":5.1,"y":0.9},{"s":"gfs raw","x":5.26,"y":0.65},{"s":"gfs raw","x":5.9,"y":1.0},{"s":"gfs raw","x":6.4,"y":0.9},{"s":"gfs raw","x":6.56,"y":1.17},{"s":"gfs raw","x":7.03,"y":1.35},{"s":"gfs raw","x":7.25,"y":0.8},{"s":"gfs raw","x":7.64,"y":1.56},{"s":"gfs raw","x":7.96,"y":0.8},{"s":"gfs raw","x":2.88,"y":1.82},{"s":"gfs raw","x":3.27,"y":1.74},{"s":"gfs raw","x":3.57,"y":1.78},{"s":"gfs raw","x":3.74,"y":1.56},{"s":"gfs raw","x":4.22,"y":1.45},{"s":"gfs raw","x":4.0,"y":1.0},{"s":"gfs raw","x":3.7,"y":1.0},{"s":"gfs raw","x":3.35,"y":0.95},{"s":"gfs raw","x":4.57,"y":0.9},{"s":"gfs raw","x":4.5,"y":0.7},{"s":"gfs raw","x":4.07,"y":0.37},{"s":"gfs raw","x":4.0,"y":0.15},{"s":"gfs raw","x":2.55,"y":0.8},{"s":"gfs raw","x":3.1,"y":0.52},{"s":"gfs raw","x":4.83,"y":1.24},{"s":"gfs raw","x":5.52,"y":1.78},{"s":"gfs raw","x":5.7,"y":2.1},{"s":"gfs raw","x":5.2,"y":2.1},{"s":"gfs raw","x":5.0,"y":1.82},{"s":"gfs raw","x":9.4,"y":9.0},{"s":"gfs raw","x":9.75,"y":8.9},
{"s":"gfs raw","x":11.04,"y":13.75},{"s":"gfs raw","x":13.3,"y":11.2},{"s":"gfs raw","x":11.4,"y":11.8},{"s":"gfs raw","x":12.5,"y":10.55},{"s":"gfs raw","x":11.65,"y":9.66},{"s":"gfs raw","x":10.9,"y":9.05},{"s":"gfs raw","x":15.4,"y":10.2},{"s":"gfs raw","x":11.6,"y":8.1},{"s":"gfs raw","x":12.1,"y":8.0},{"s":"gfs raw","x":10.0,"y":6.67},{"s":"gfs raw","x":11.3,"y":6.45},{"s":"gfs raw","x":12.7,"y":6.67},{"s":"gfs raw","x":10.1,"y":5.95},{"s":"gfs raw","x":10.1,"y":5.8},{"s":"gfs raw","x":11.28,"y":5.2},{"s":"gfs raw","x":9.55,"y":3.04},{"s":"gfs raw","x":9.7,"y":3.0},{"s":"gfs raw","x":10.56,"y":2.74},{"s":"gfs raw","x":15.3,"y":2.28},{"s":"gfs raw","x":15.9,"y":1.39},
{"s":"gfs mos","x":6.17,"y":12.2},{"s":"gfs mos","x":6.0,"y":11.3},{"s":"gfs mos","x":7.3,"y":10.0},{"s":"gfs mos","x":8.9,"y":9.77},{"s":"gfs mos","x":9.6,"y":9.92},{"s":"gfs mos","x":9.05,"y":9.05},{"s":"gfs mos","x":9.26,"y":8.73},{"s":"gfs mos","x":9.4,"y":8.66},{"s":"gfs mos","x":4.83,"y":8.95},{"s":"gfs mos","x":4.44,"y":8.66},{"s":"gfs mos","x":6.45,"y":8.95},{"s":"gfs mos","x":7.03,"y":8.95},{"s":"gfs mos","x":8.03,"y":9.0},{"s":"gfs mos","x":6.9,"y":8.62},{"s":"gfs mos","x":6.5,"y":8.34},{"s":"gfs mos","x":6.0,"y":7.86},{"s":"gfs mos","x":6.4,"y":7.75},{"s":"gfs mos","x":6.7,"y":7.82},{"s":"gfs mos","x":7.16,"y":7.9},{"s":"gfs mos","x":7.5,"y":7.97},{"s":"gfs mos","x":7.0,"y":7.47},{"s":"gfs mos","x":7.25,"y":7.38},{"s":"gfs mos","x":8.77,"y":8.12},{"s":"gfs mos","x":8.83,"y":7.64},{"s":"gfs mos","x":8.3,"y":7.25},{"s":"gfs mos","x":8.57,"y":7.2},{"s":"gfs mos","x":8.68,"y":6.67},{"s":"gfs mos","x":7.47,"y":7.25},{"s":"gfs mos","x":7.6,"y":6.88},{"s":"gfs mos","x":7.86,"y":6.82},{"s":"gfs mos","x":6.77,"y":7.0},{"s":"gfs mos","x":6.45,"y":6.82},{"s":"gfs mos","x":6.17,"y":6.95},{"s":"gfs mos","x":5.8,"y":7.2},{"s":"gfs mos","x":5.48,"y":7.32},{"s":"gfs mos","x":4.72,"y":7.32},{"s":"gfs mos","x":4.22,"y":7.2},{"s":"gfs mos","x":5.2,"y":6.67},{"s":"gfs mos","x":4.78,"y":6.6},{"s":"gfs mos","x":5.2,"y":6.12},{"s":"gfs mos","x":5.74,"y":6.23},{"s":"gfs mos","x":6.1,"y":6.34},{"s":"gfs mos","x":5.95,"y":6.0},{"s":"gfs mos","x":6.34,"y":6.0},{"s":"gfs mos","x":5.9,"y":5.7},{"s":"gfs mos","x":6.3,"y":5.47},{"s":"gfs mos","x":5.7,"y":5.47},{"s":"gfs mos","x":5.48,"y":5.7},{"s":"gfs mos","x":5.15,"y":5.8},{"s":"gfs mos","x":4.72,"y":6.23},{"s":"gfs mos","x":4.44,"y":6.0},{"s":"gfs mos","x":3.85,"y":6.67},{"s":"gfs mos","x":3.7,"y":6.45},{"s":"gfs mos","x":3.42,"y":5.95},{"s":"gfs mos","x":3.57,"y":5.47},{"s":"gfs mos","x":2.94,"y":5.62},{"s":"gfs mos","x":2.84,"y":5.47},{"s":"gfs mos","x":2.55,"y":5.04},{"s":"gfs mos","x":3.57,"y":4.82},{"s":"gfs mos","x":3.85,"y":5.25},{"s":"gfs mos","x":4.0,"y":4.93},{"s":"gfs mos","x":3.85,"y":4.5},{"s":"gfs mos","x":4.22,"y":5.15},{"s":"gfs mos","x":4.44,"y":5.25},{"s":"gfs mos","x":4.66,"y":5.47},{"s":"gfs mos","x":4.57,"y":4.82},{"s":"gfs mos","x":5.0,"y":5.3},{"s":"gfs mos","x":4.94,"y":4.78},{"s":"gfs mos","x":5.65,"y":3.73},{"s":"gfs mos","x":5.9,"y":5.25},{"s":"gfs mos","x":6.17,"y":4.78},{"s":"gfs mos","x":6.17,"y":4.34},{"s":"gfs mos","x":6.1,"y":5.25},{"s":"gfs mos","x":7.14,"y":5.3},{"s":"gfs mos","x":6.7,"y":5.08},{"s":"gfs mos","x":4.13,"y":4.78},
{"s":"gfs mos","x":11.04,"y":14.03},{"s":"gfs mos","x":13.3,"y":13.3},{"s":"gfs mos","x":11.4,"y":12.1},{"s":"gfs mos","x":12.5,"y":11.7},{"s":"gfs mos","x":10.9,"y":10.8},{"s":"gfs mos","x":12.1,"y":10.8},{"s":"gfs mos","x":11.3,"y":10.4},{"s":"gfs mos","x":11.5,"y":10.25},{"s":"gfs mos","x":11.65,"y":10.2},{"s":"gfs mos","x":9.74,"y":10.3},{"s":"gfs mos","x":9.33,"y":9.38},{"s":"gfs mos","x":10.1,"y":9.7},{"s":"gfs mos","x":10.56,"y":9.23},{"s":"gfs mos","x":12.7,"y":8.56},{"s":"gfs mos","x":10.0,"y":8.23},{"s":"gfs mos","x":10.1,"y":7.97},{"s":"gfs mos","x":15.4,"y":11.05},{"s":"gfs mos","x":15.3,"y":7.97},{"s":"gfs mos","x":15.9,"y":7.5}
]
},
"concat": [
{
"width": 308, "height": 307,
"layer": [
{"data": {"name": "a"}, "mark": {"type": "circle", "size": 36, "opacity": 1},
 "encoding": {
  "x": {"field": "x", "type": "quantitative", "scale": {"domain": [0, 20], "nice": false}, "axis": {"orient": "bottom", "values": [0, 5, 10, 15, 20], "grid": true, "title": "observed 1 hourly WS at 80m [m/s]", "labelPadding": 16, "titlePadding": 5}},
  "y": {"field": "y", "type": "quantitative", "scale": {"domain": [0, 20], "nice": false}, "axis": {"orient": "left", "values": [0, 5, 10, 15, 20], "grid": true, "title": "forecasted WS at 800hPa [m/s]", "labelPadding": 10, "titlePadding": 14}},
  "color": {"field": "s", "type": "nominal", "scale": {"domain": ["gfs raw", "gfs mos"], "range": ["#4db848", "#ff0000"]}, "legend": {"labelExpr": "datum.label + '\u00a0\u00a0'"}}
 }},
{"data": {"values": [{"x": 0, "y": 0}, {"x": 20, "y": 20}]}, "mark": {"type": "line", "color": "black", "strokeWidth": 1},
 "encoding": {
  "x": {"field": "x", "type": "quantitative", "scale": {"domain": [0, 20], "nice": false}, "axis": {"orient": "top", "values": [0, 5, 10, 15, 20], "labels": false, "grid": false, "title": "2010: training period", "titleFontSize": 23, "titleX": 162, "titleY": -12, "titleAlign": "center", "titleBaseline": "alphabetic"}},
  "y": {"field": "y", "type": "quantitative", "scale": {"domain": [0, 20], "nice": false}, "axis": {"orient": "right", "values": [0, 5, 10, 15, 20], "labels": false, "title": null, "grid": false}}
 }},
{"data": {"values": [{"t": "a"}]}, "mark": {"type": "text", "fontSize": 24, "align": "center", "baseline": "alphabetic", "color": "black"},
 "encoding": {"x": {"datum": -3.44, "type": "quantitative", "scale": {"domain": [0, 20], "nice": false}, "axis": null}, "y": {"datum": 21, "type": "quantitative", "scale": {"domain": [0, 20], "nice": false}, "axis": null}, "text": {"field": "t"}}}
]
},
{
"width": 308, "height": 307,
"layer": [
{"data": {"name": "b"}, "mark": {"type": "circle", "size": 36, "opacity": 1},
 "encoding": {
  "x": {"field": "x", "type": "quantitative", "scale": {"domain": [0, 20], "nice": false}, "axis": {"orient": "bottom", "values": [0, 5, 10, 15, 20], "grid": true, "title": "observed 1 hourly WS at 80m [m/s]", "labelPadding": 16, "titlePadding": 5}},
  "y": {"field": "y", "type": "quantitative", "scale": {"domain": [0, 20], "nice": false}, "axis": {"orient": "left", "values": [0, 5, 10, 15, 20], "grid": true, "title": "forecasted WS at 800hPa [m/s]", "labelPadding": 10, "titlePadding": 14}},
  "color": {"field": "s", "type": "nominal", "scale": {"domain": ["gfs raw", "gfs mos"], "range": ["#4db848", "#ff0000"]}, "legend": {"labelExpr": "datum.label + '\u00a0\u00a0'"}}
 }},
{"data": {"values": [{"x": 0, "y": 0}, {"x": 20, "y": 20}]}, "mark": {"type": "line", "color": "black", "strokeWidth": 1},
 "encoding": {
  "x": {"field": "x", "type": "quantitative", "scale": {"domain": [0, 20], "nice": false}, "axis": {"orient": "top", "values": [0, 5, 10, 15, 20], "labels": false, "grid": false, "title": "2011: training period", "titleFontSize": 23, "titleX": 162, "titleY": -12, "titleAlign": "center", "titleBaseline": "alphabetic"}},
  "y": {"field": "y", "type": "quantitative", "scale": {"domain": [0, 20], "nice": false}, "axis": {"orient": "right", "values": [0, 5, 10, 15, 20], "labels": false, "title": null, "grid": false}}
 }},
{"data": {"values": [{"t": "b"}]}, "mark": {"type": "text", "fontSize": 24, "align": "center", "baseline": "alphabetic", "color": "black"},
 "encoding": {"x": {"datum": -3.44, "type": "quantitative", "scale": {"domain": [0, 20], "nice": false}, "axis": null}, "y": {"datum": 21, "type": "quantitative", "scale": {"domain": [0, 20], "nice": false}, "axis": null}, "text": {"field": "t"}}}
]
},
{
"width": 308, "height": 307,
"layer": [
{"data": {"name": "c"}, "mark": {"type": "circle", "size": 36, "opacity": 1},
 "encoding": {
  "x": {"field": "x", "type": "quantitative", "scale": {"domain": [0, 20], "nice": false}, "axis": {"orient": "bottom", "values": [0, 5, 10, 15, 20], "grid": true, "title": "observed 1 hourly WS at 80m [m/s]", "labelPadding": 16, "titlePadding": 5}},
  "y": {"field": "y", "type": "quantitative", "scale": {"domain": [0, 20], "nice": false}, "axis": {"orient": "left", "values": [0, 5, 10, 15, 20], "grid": true, "title": "forecasted WS at 800hPa [m/s]", "labelPadding": 10, "titlePadding": 14}},
  "color": {"field": "s", "type": "nominal", "scale": {"domain": ["gfs raw", "gfs mos"], "range": ["#4db848", "#ff0000"]}, "legend": {"labelExpr": "datum.label + '\u00a0\u00a0'"}}
 }},
{"data": {"values": [{"x": 0, "y": 0}, {"x": 20, "y": 20}]}, "mark": {"type": "line", "color": "black", "strokeWidth": 1},
 "encoding": {
  "x": {"field": "x", "type": "quantitative", "scale": {"domain": [0, 20], "nice": false}, "axis": {"orient": "top", "values": [0, 5, 10, 15, 20], "labels": false, "grid": false, "title": "2010: training period", "titleFontSize": 23, "titleX": 162, "titleY": -12, "titleAlign": "center", "titleBaseline": "alphabetic"}},
  "y": {"field": "y", "type": "quantitative", "scale": {"domain": [0, 20], "nice": false}, "axis": {"orient": "right", "values": [0, 5, 10, 15, 20], "labels": false, "title": null, "grid": false}}
 }},
{"data": {"values": [{"t": "c"}]}, "mark": {"type": "text", "fontSize": 24, "align": "center", "baseline": "alphabetic", "color": "black"},
 "encoding": {"x": {"datum": -3.44, "type": "quantitative", "scale": {"domain": [0, 20], "nice": false}, "axis": null}, "y": {"datum": 21, "type": "quantitative", "scale": {"domain": [0, 20], "nice": false}, "axis": null}, "text": {"field": "t"}}}
]
},
{
"width": 308, "height": 307,
"layer": [
{"data": {"name": "d"}, "mark": {"type": "circle", "size": 36, "opacity": 1},
 "encoding": {
  "x": {"field": "x", "type": "quantitative", "scale": {"domain": [0, 20], "nice": false}, "axis": {"orient": "bottom", "values": [0, 5, 10, 15, 20], "grid": true, "title": "observed 1 hourly WS at 80m [m/s]", "labelPadding": 16, "titlePadding": 5}},
  "y": {"field": "y", "type": "quantitative", "scale": {"domain": [0, 20], "nice": false}, "axis": {"orient": "left", "values": [0, 5, 10, 15, 20], "grid": true, "title": "forecasted WS at 800hPa [m/s]", "labelPadding": 10, "titlePadding": 14}},
  "color": {"field": "s", "type": "nominal", "scale": {"domain": ["gfs raw", "gfs mos"], "range": ["#4db848", "#ff0000"]}, "legend": {"labelExpr": "datum.label + '\u00a0\u00a0'"}}
 }},
{"data": {"values": [{"x": 0, "y": 0}, {"x": 20, "y": 20}]}, "mark": {"type": "line", "color": "black", "strokeWidth": 1},
 "encoding": {
  "x": {"field": "x", "type": "quantitative", "scale": {"domain": [0, 20], "nice": false}, "axis": {"orient": "top", "values": [0, 5, 10, 15, 20], "labels": false, "grid": false, "title": "2011: training period", "titleFontSize": 23, "titleX": 162, "titleY": -12, "titleAlign": "center", "titleBaseline": "alphabetic"}},
  "y": {"field": "y", "type": "quantitative", "scale": {"domain": [0, 20], "nice": false}, "axis": {"orient": "right", "values": [0, 5, 10, 15, 20], "labels": false, "title": null, "grid": false}}
 }},
{"data": {"values": [{"t": "d"}]}, "mark": {"type": "text", "fontSize": 24, "align": "center", "baseline": "alphabetic", "color": "black"},
 "encoding": {"x": {"datum": -3.44, "type": "quantitative", "scale": {"domain": [0, 20], "nice": false}, "axis": null}, "y": {"datum": 21, "type": "quantitative", "scale": {"domain": [0, 20], "nice": false}, "axis": null}, "text": {"field": "t"}}}
]
}
]
}
